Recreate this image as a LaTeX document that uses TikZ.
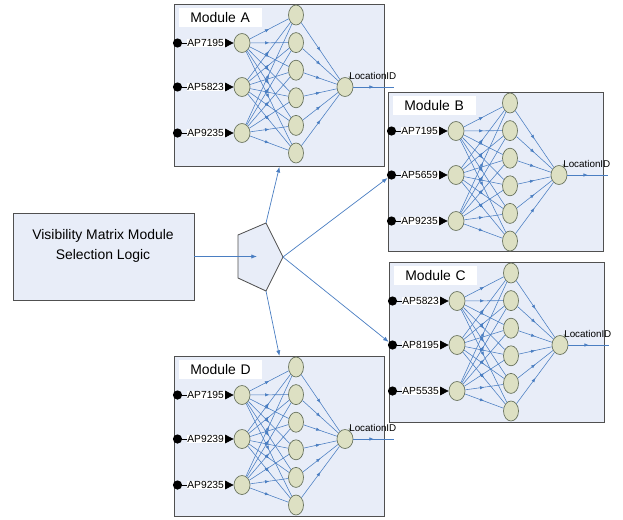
\documentclass[tikz,border=0pt]{standalone}
\usepackage{fontspec}
\setmainfont{Liberation Sans}
\usetikzlibrary{shapes.geometric,arrows.meta,decorations.markings}

\definecolor{boxblue}{HTML}{E8EDF8}
\definecolor{neuron}{HTML}{DDE0C3}
\definecolor{neurondraw}{HTML}{6B7560}
\definecolor{wire}{HTML}{4A7EC2}
\definecolor{edge}{HTML}{505050}

\tikzset{
  modbox/.style={draw=edge, fill=boxblue, line width=0.6pt, inner sep=0pt},
  titlebox/.style={fill=white, inner xsep=0.275cm, inner ysep=0pt, text width=1.525cm,
    minimum height=0.475cm, align=left, font=\fontsize{9.9}{11}\selectfont},
  apdot/.style={circle, fill=black, minimum size=0.23cm, inner sep=0pt},
  aplabel/.style={fill=white, inner sep=0.5pt, font=\fontsize{7.3}{8}\selectfont},
  inneuron/.style={ellipse, draw=neurondraw, fill=neuron, minimum width=0.4cm,
    minimum height=0.475cm, inner sep=0pt, line width=0.5pt},
  hidneuron/.style={inneuron, minimum width=0.375cm, minimum height=0.5cm},
  locfont/.style={font=\fontsize{7}{8}\selectfont, inner sep=0pt},
  link/.style={color=wire, line width=0.4pt, postaction={decorate},
    decoration={markings, mark=at position 0.5 with {\arrow{Latex[length=3pt,width=2.4pt]}}}},
  feed/.style={black, line width=0.5pt, -{Triangle[length=6pt,width=6pt]}},
  flow/.style={color=wire, line width=0.5pt, -{Latex[length=4pt,width=3pt]}}
}

% #1 name, #2 x, #3 y, #4 width, #5 height, #6-#8 input labels
\newcommand{\nnmodule}[8]{%
\begin{scope}[shift={(#2,#3)}]
\node[modbox, anchor=north west, minimum width={#4*0.025cm}, minimum height={#5*0.025cm}] (#1) at (0,0) {};
\node[titlebox, anchor=north west] (#1-title) at (5,4) {Module #1};
\foreach \i/\yy/\ap in {1/39/#6, 2/83/#7, 3/129/#8} {
  \node[apdot] (#1-d\i) at (3.5,\yy) {};
  \node[inneuron] (#1-i\i) at (68,\yy) {};
  \draw[feed] (#1-d\i) -- node[aplabel, pos=0.83, anchor=east] {\ap} (#1-i\i);
}
\foreach \j in {1,...,6}
  \node[hidneuron] (#1-h\j) at (122,{11+27.6*(\j-1)}) {};
\node[inneuron] (#1-out) at (171,83) {};
\coordinate (#1-end) at (220,83);
\node[locfont, anchor=west] (#1-loc) at (175,72) {LocationID};
\draw[neurondraw, line width=0.4pt] (#1-out.60) -- (#1-loc.west);
\foreach \i in {1,2,3}
  \foreach \j in {1,...,6}
    \draw[link] (#1-i\i) -- (#1-h\j);
\foreach \j in {1,...,6}
  \draw[link] (#1-h\j) -- (#1-out);
\draw[link] (#1-out) -- (#1-end);
\end{scope}}

\begin{document}
\begin{tikzpicture}[x=0.025cm, y=-0.025cm]
\useasboundingbox (0,0) rectangle (623,519);

% selection logic
\node[modbox, minimum width=4.525cm, minimum height=2.175cm] (vml) at (103.5,256.5) {};
\node[align=center, font=\fontsize{9.9}{14.7}\selectfont] (vml-text) at (103,246)
  {Visibility Matrix Module\\Selection Logic};

\coordinate (sel-top) at (266,223);
\coordinate (sel-ul) at (238,235);
\coordinate (sel-ll) at (238,278);
\coordinate (sel-bot) at (266,291);
\coordinate (sel-r) at (283,257);
\coordinate (sel) at (257,256.5);
\draw[draw=edge, fill=boxblue, line width=0.6pt]
  (sel-top) -- (sel-r) -- (sel-bot) -- (sel-ll) -- (sel-ul) -- cycle;

% modules
\nnmodule{A}{174}{4}{210}{162}{AP7195}{AP5823}{AP9235}
\nnmodule{B}{388}{92}{215}{159}{AP7195}{AP5659}{AP9235}
\nnmodule{C}{389}{262}{215}{160}{AP5823}{AP8195}{AP5535}
\nnmodule{D}{174}{356}{210}{160}{AP7195}{AP9239}{AP9235}

\draw[flow] (vml) -- (sel);
\draw[flow] (sel-top) -- (A.south);
\draw[flow] (sel-r) -- (B-d2);
\draw[flow] (sel-r) -- (C-d2);
\draw[flow] (sel-bot) -- (D.north);
\end{tikzpicture}
\end{document}
